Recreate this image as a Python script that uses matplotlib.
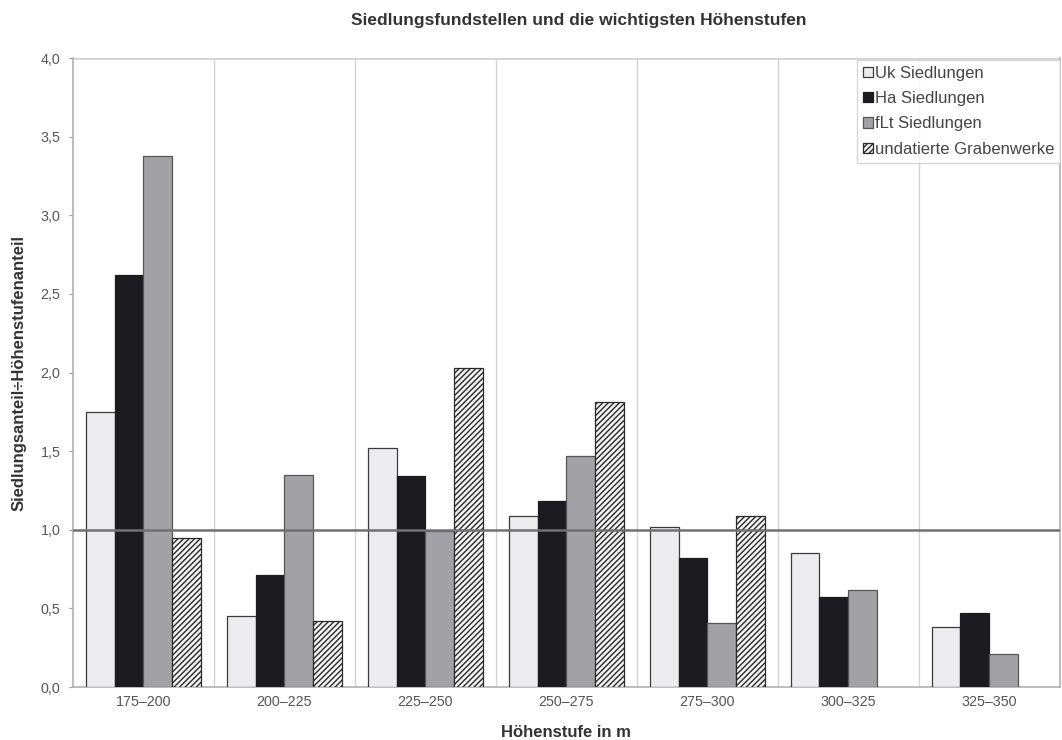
import numpy as np
import matplotlib
matplotlib.use("Agg")
import matplotlib.pyplot as plt

plt.rcParams['font.family'] = ['Liberation Sans', 'DejaVu Sans']
plt.rcParams['hatch.linewidth'] = 1.0

categories = ["175–200", "200–225", "225–250", "250–275", "275–300", "300–325", "325–350"]
uk = [1.75, 0.45, 1.52, 1.09, 1.02, 0.85, 0.38]
ha = [2.62, 0.71, 1.34, 1.18, 0.82, 0.57, 0.47]
flt = [3.38, 1.35, 0.99, 1.47, 0.41, 0.62, 0.21]
graben = [0.95, 0.42, 2.03, 1.81, 1.09, None, None]
yticks = [0.0, 0.5, 1.0, 1.5, 2.0, 2.5, 3.0, 3.5, 4.0]

fig = plt.figure(figsize=(10.62, 7.40), dpi=100)
ax = fig.add_axes([0.0687, 0.0716, 0.9293, 0.850])

x = np.arange(len(categories))
w = 0.205
offsets = [-1.5 * w, -0.5 * w, 0.5 * w, 1.5 * w]

ax.bar(x + offsets[0], uk, w, color="#ececee", edgecolor="#3a3a3a", linewidth=0.9,
       label="Uk Siedlungen", zorder=3)
ax.bar(x + offsets[1], ha, w, color="#1c1c20", edgecolor="#1c1c20", linewidth=0.9,
       label="Ha Siedlungen", zorder=3)
ax.bar(x + offsets[2], flt, w, color="#a2a2a6", edgecolor="#555555", linewidth=0.9,
       label="fLt Siedlungen", zorder=3)
gx = [xi for xi, v in zip(x, graben) if v is not None]
gv = [v for v in graben if v is not None]
ax.bar(np.array(gx) + offsets[3], gv, w, color="#f4f4f4", edgecolor="#2a2a2a",
       hatch="//////", linewidth=0.9, label="undatierte Grabenwerke", zorder=3)

# reference level 1,0
ax.axhline(1.0, color="#707070", linewidth=1.8, zorder=4)

# separators between height classes
for b in np.arange(len(categories) - 1) + 0.5:
    ax.axvline(b, color="#d4d4d4", linewidth=1.0, zorder=1)
ax.axhline(4.0, color="#d4d4d4", linewidth=2.0, zorder=1)

ax.set_xlim(-0.5, len(categories) - 0.5)
ax.set_ylim(0, 4.0)
ax.set_yticks(yticks)
ax.set_yticklabels([f"{t:.1f}".replace(".", ",") for t in yticks])
ax.set_xticks(x)
ax.set_xticklabels(categories)
ax.tick_params(axis="both", labelsize=10.3, colors="#555555", length=0, pad=6)
ax.tick_params(axis="y", length=3, color="#999999")

ax.spines["top"].set_visible(False)
for side in ("left", "bottom", "right"):
    ax.spines[side].set_color("#b0b0b0")
    ax.spines[side].set_linewidth(1.2)

ax.set_xlabel("Höhenstufe in m", fontsize=12, fontweight="bold", color="#333333", labelpad=11)
ax.set_ylabel("Siedlungsanteil÷Höhenstufenanteil", fontsize=12, fontweight="bold",
              color="#333333", labelpad=10)
fig.text(0.545, 0.972, "Siedlungsfundstellen und die wichtigsten Höhenstufen",
         ha="center", va="center", fontsize=12.5, fontweight="bold", color="#333333")

leg = ax.legend(loc="upper right", bbox_to_anchor=(1.0, 0.997), fontsize=12,
                frameon=True, fancybox=False, handlelength=0.6, handleheight=0.6,
                handletextpad=0.1, borderpad=0.35, labelspacing=0.62,
                borderaxespad=0.0, labelcolor="#444444")
leg.get_frame().set_edgecolor("#cccccc")
leg.get_frame().set_linewidth(1.0)

fig.savefig("out.png", dpi=100, facecolor="white")
